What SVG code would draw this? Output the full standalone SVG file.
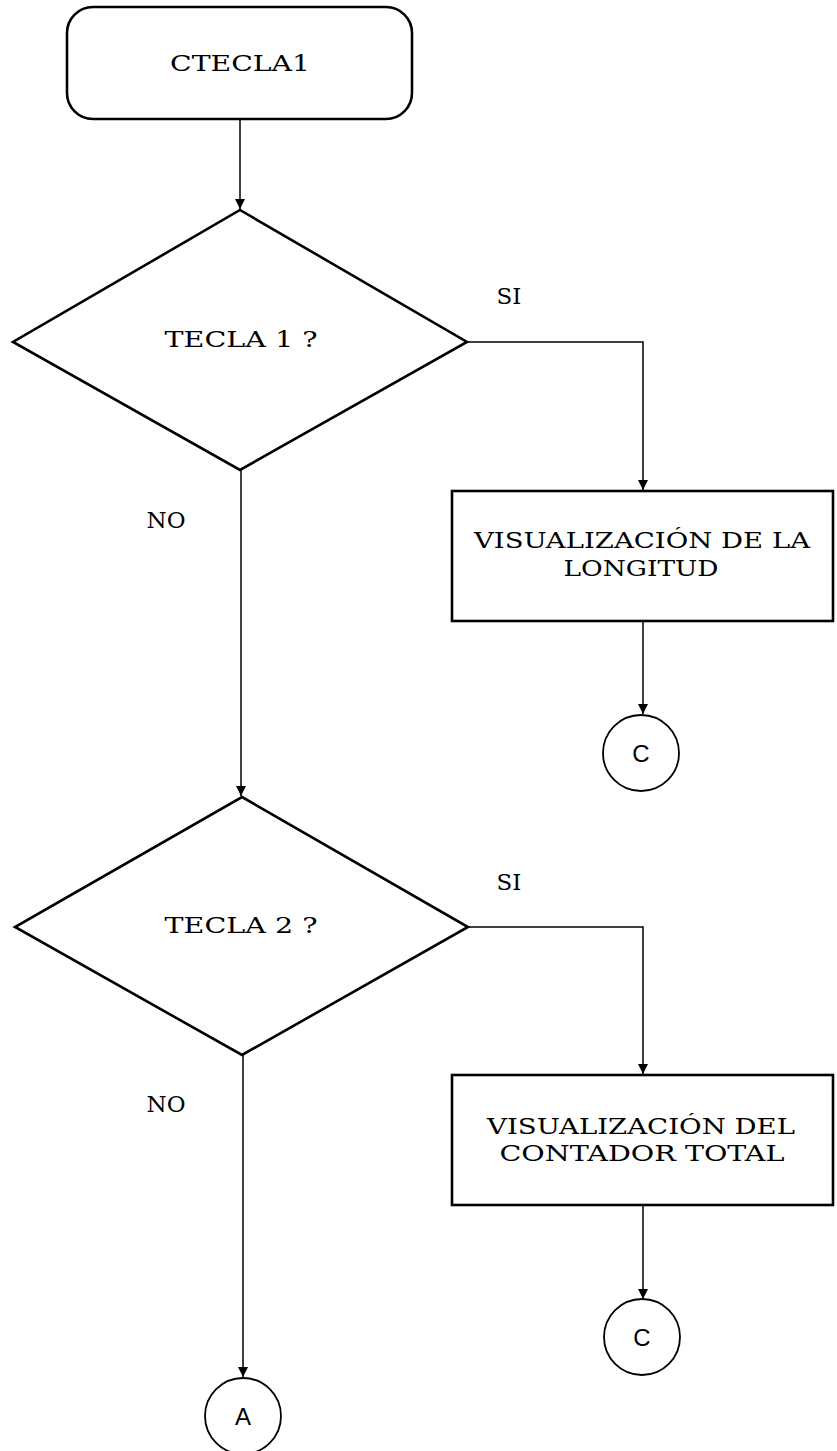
<svg xmlns="http://www.w3.org/2000/svg" width="837" height="1451" viewBox="0 0 837 1451">
  <style>
    .shape { fill: #fff; stroke: #000; stroke-width: 2.6; }
    .ring { fill: #fff; stroke: #000; stroke-width: 1.8; }
    .conn { fill: none; stroke: #000; stroke-width: 1.5; }
    .lbl { font-family: "DejaVu Serif", "Liberation Serif", serif; font-size: 23px; fill: #000; text-anchor: middle; }
    .con { font-family: "Liberation Sans", "DejaVu Sans", sans-serif; font-size: 24px; fill: #000; text-anchor: middle; }
  </style>
  <defs>
    <marker id="arrow" viewBox="0 0 10 10" refX="10" refY="5" markerWidth="11" markerHeight="10" markerUnits="userSpaceOnUse" orient="auto">
      <path d="M0,0 L10,5 L0,10 Z" fill="#000"/>
    </marker>
  </defs>

  <!-- connectors -->
  <g id="connectors">
    <path class="conn" d="M240,119 V209" marker-end="url(#arrow)"/>
    <path class="conn" d="M467,342 H643 V490" marker-end="url(#arrow)"/>
    <path class="conn" d="M643,621 V714" marker-end="url(#arrow)"/>
    <path class="conn" d="M241,470 V796" marker-end="url(#arrow)"/>
    <path class="conn" d="M468,927 H643 V1074" marker-end="url(#arrow)"/>
    <path class="conn" d="M643,1205 V1299" marker-end="url(#arrow)"/>
    <path class="conn" d="M243,1055 V1377" marker-end="url(#arrow)"/>
  </g>

  <!-- start terminal -->
  <g id="start">
    <rect class="shape" x="67" y="7" width="345" height="112" rx="26" ry="26"/>
    <text class="lbl" x="240" y="71" textLength="140" lengthAdjust="spacingAndGlyphs">CTECLA1</text>
  </g>

  <!-- decision: key 1 -->
  <g id="decision1">
    <polygon class="shape" points="240,210 467,342 240,470 13,342"/>
    <text class="lbl" x="241" y="347" textLength="153" lengthAdjust="spacingAndGlyphs">TECLA 1  ?</text>
  </g>
  <text class="lbl" x="509" y="304">SI</text>
  <text class="lbl" x="166" y="528">NO</text>

  <!-- process: show length -->
  <g id="process1">
    <rect class="shape" x="452" y="491" width="381" height="130"/>
    <text class="lbl" x="642" y="548" textLength="336" lengthAdjust="spacingAndGlyphs">VISUALIZACIÓN DE LA</text>
    <text class="lbl" x="641" y="576" textLength="155" lengthAdjust="spacingAndGlyphs">LONGITUD</text>
  </g>

  <!-- connector C (1) -->
  <g id="connC1">
    <circle class="ring" cx="641" cy="753" r="38"/>
    <text class="con" x="641" y="762">C</text>
  </g>

  <!-- decision: key 2 -->
  <g id="decision2">
    <polygon class="shape" points="242,797 468,927 242,1055 15,927"/>
    <text class="lbl" x="241" y="933" textLength="153" lengthAdjust="spacingAndGlyphs">TECLA 2  ?</text>
  </g>
  <text class="lbl" x="509" y="890">SI</text>
  <text class="lbl" x="166" y="1112">NO</text>

  <!-- process: show total counter -->
  <g id="process2">
    <rect class="shape" x="452" y="1075" width="381" height="130"/>
    <text class="lbl" x="641" y="1134" textLength="308" lengthAdjust="spacingAndGlyphs">VISUALIZACIÓN DEL</text>
    <text class="lbl" x="642" y="1161" textLength="285" lengthAdjust="spacingAndGlyphs">CONTADOR TOTAL</text>
  </g>

  <!-- connector C (2) -->
  <g id="connC2">
    <circle class="ring" cx="642" cy="1337" r="38"/>
    <text class="con" x="642" y="1346">C</text>
  </g>

  <!-- connector A -->
  <g id="connA">
    <circle class="ring" cx="243" cy="1416" r="38"/>
    <text class="con" x="243" y="1425">A</text>
  </g>
</svg>
